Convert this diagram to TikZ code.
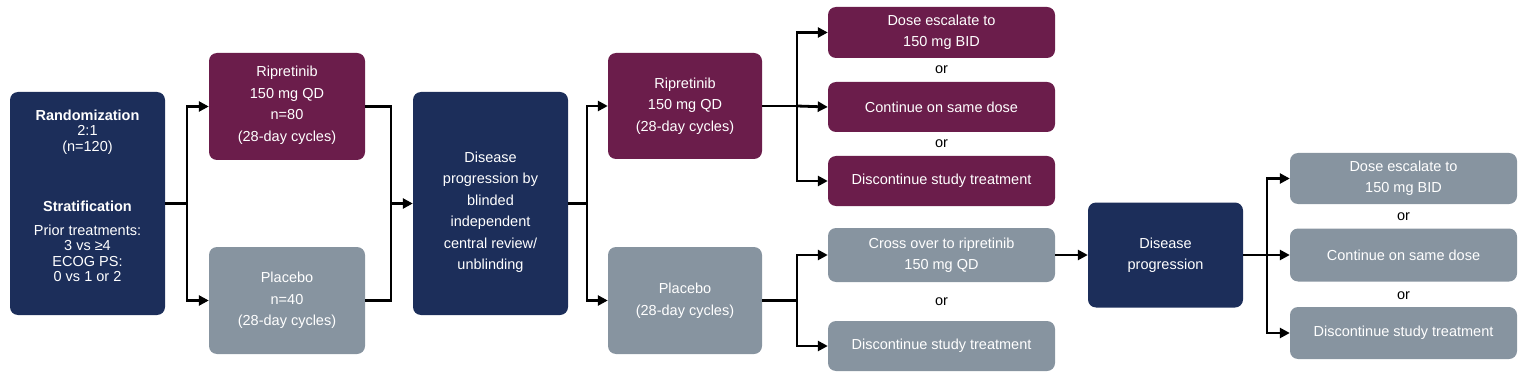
\documentclass[tikz,border=0pt]{standalone}
\usepackage{fontspec}
\setmainfont{Liberation Sans}
\usetikzlibrary{arrows.meta}
\definecolor{navy}{HTML}{1C2E5A}
\definecolor{maroon}{HTML}{6B1D4B}
\definecolor{slate}{HTML}{8794A0}
\begin{document}
\begin{tikzpicture}[x=1pt,y=-1pt,
  box/.style={rounded corners=8pt, text=white, align=center, inner sep=0pt,
              font=\fontsize{14.5}{21.5}\selectfont},
  nv/.style={box, fill=navy},
  mr/.style={box, fill=maroon},
  gr/.style={box, fill=slate},
  ln/.style={line width=2.8pt, line join=miter},
  arr/.style={ln, -{Triangle[length=10pt,width=10pt]}},
  ortext/.style={font=\fontsize{14.5}{16}\selectfont, text=black, inner sep=0pt}]
\useasboundingbox (0,0) rectangle (1530,382);

% first column
\node[nv, minimum width=155, minimum height=223, font=\fontsize{14.5}{15.5}\selectfont] (rand) at (87.5,203.5)
  {\textbf{Randomization}\\2:1\\(n=120)\\[45pt]\textbf{Stratification}\\[8pt]Prior treatments:\\3 vs ≥4\\ECOG PS:\\0 vs 1 or 2\\[0pt]\mbox{}};

\node[mr, minimum width=156, minimum height=107] (rip1) at (287,106.5)
  {\mbox{}\\[-13pt]Ripretinib\\150 mg QD\\n=80\\(28-day cycles)};
\node[gr, minimum width=156, minimum height=107] (plc1) at (287,300.5)
  {Placebo\\n=40\\(28-day cycles)};

\node[nv, minimum width=155, minimum height=223] (dis1) at (490.5,203.5)
  {\mbox{}\\[7pt]Disease\\progression by\\blinded\\independent\\central review/\\unblinding};

\node[mr, minimum width=154, minimum height=106] (rip2) at (685,106)
  {Ripretinib\\150 mg QD\\(28-day cycles)};
\node[gr, minimum width=154, minimum height=107] (plc2) at (685,300.5)
  {Placebo\\(28-day cycles)};

% ripretinib outcomes
\node[mr, minimum width=227, minimum height=51] (mA) at (941.5,32.5)
  {Dose escalate to\\150 mg BID};
\node[ortext] (or1) at (941.5,70) {or};
\node[mr, minimum width=227, minimum height=50] (mB) at (941.5,107)
  {Continue on same dose};
\node[ortext] (or2) at (941.5,144) {or};
\node[mr, minimum width=227, minimum height=50] (mC) at (941.5,181)
  {Discontinue study treatment};

% placebo outcomes
\node[gr, minimum width=227, minimum height=54] (gA) at (941.5,255)
  {Cross over to ripretinib\\150 mg QD};
\node[ortext] (or3) at (941.5,302) {or};
\node[gr, minimum width=227, minimum height=50] (gB) at (941.5,346)
  {Discontinue study treatment};

\node[nv, minimum width=155, minimum height=105] (dis2) at (1165.5,255)
  {Disease\\progression};

\node[gr, minimum width=227, minimum height=51] (rA) at (1403.5,178.5)
  {Dose escalate to\\150 mg BID};
\node[ortext] (or4) at (1403.5,217) {or};
\node[gr, minimum width=227, minimum height=53] (rB) at (1403.5,255)
  {Continue on same dose};
\node[ortext] (or5) at (1403.5,296) {or};
\node[gr, minimum width=227, minimum height=52] (rC) at (1403.5,333)
  {Discontinue study treatment};

% connectors
\coordinate (j0) at (187,203.5);
\draw[ln] (rand.east) -- (j0);
\draw[arr] (j0) |- (rip1.west);
\draw[arr] (j0) |- (plc1.west);

\coordinate (j1) at (391,203.5);
\draw[ln] (rip1.east) -| (j1);
\draw[ln] (plc1.east) -| (j1);
\draw[arr] (j1) -- (dis1.west);

\coordinate (j2) at (587,203.5);
\draw[ln] (dis1.east) -- (j2);
\draw[arr] (j2) |- (rip2.west);
\draw[arr] (j2) |- (plc2.west);

\coordinate (j3) at (797,106);
\draw[ln] (rip2.east) -- (j3);
\draw[arr] (j3) |- (mA.west);
\draw[arr] (j3) -- (mB.west);
\draw[arr] (j3) |- (mC.west);

\coordinate (j4) at (797,300.5);
\draw[ln] (plc2.east) -- (j4);
\draw[arr] (j4) |- (gA.west);
\draw[arr] (j4) |- (gB.west);

\draw[arr] (gA.east) -- (dis2.west);

\coordinate (j5) at (1267,255);
\draw[ln] (dis2.east) -- (j5);
\draw[arr] (j5) |- (rA.west);
\draw[arr] (j5) -- (rB.west);
\draw[arr] (j5) |- (rC.west);
\end{tikzpicture}
\end{document}
